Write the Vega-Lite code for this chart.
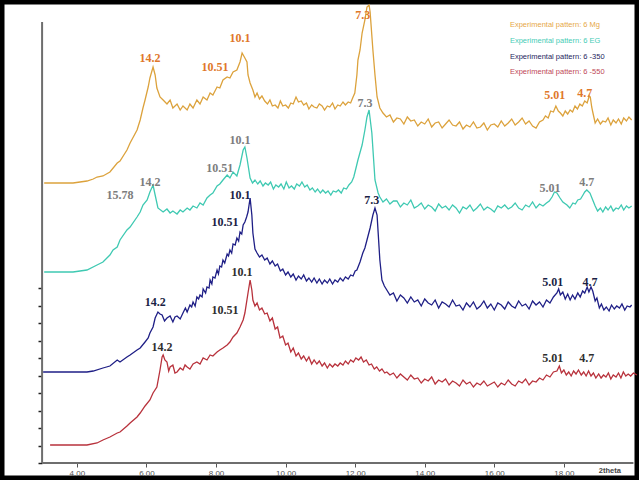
{
  "$schema": "https://vega.github.io/schema/vega-lite/v6.json",
  "width": 639,
  "height": 480,
  "autosize": {"type": "none"},
  "padding": 0,
  "background": "white",
  "config": {"view": {"stroke": "#000", "strokeWidth": 9}},
  "datasets": {
    "curves": [
      {"s":"Mg","t":3.06,"i":280},{"s":"Mg","t":3.52,"i":280},{"s":"Mg","t":3.89,"i":280},{"s":"Mg","t":4.09,"i":281},{"s":"Mg","t":4.29,"i":282},{"s":"Mg","t":4.47,"i":284},{"s":"Mg","t":4.58,"i":286},{"s":"Mg","t":4.75,"i":287},{"s":"Mg","t":4.95,"i":291},{"s":"Mg","t":5.16,"i":300},{"s":"Mg","t":5.24,"i":302},{"s":"Mg","t":5.44,"i":313},{"s":"Mg","t":5.53,"i":320},{"s":"Mg","t":5.73,"i":333},{"s":"Mg","t":5.82,"i":343},{"s":"Mg","t":5.90,"i":355},{"s":"Mg","t":5.96,"i":363},{"s":"Mg","t":6.05,"i":376},{"s":"Mg","t":6.10,"i":385},{"s":"Mg","t":6.19,"i":396},{"s":"Mg","t":6.25,"i":388},{"s":"Mg","t":6.30,"i":375},{"s":"Mg","t":6.39,"i":366},{"s":"Mg","t":6.48,"i":363},{"s":"Mg","t":6.59,"i":359},{"s":"Mg","t":6.68,"i":363},{"s":"Mg","t":6.76,"i":355},{"s":"Mg","t":6.88,"i":359},{"s":"Mg","t":6.97,"i":353},{"s":"Mg","t":7.05,"i":357},{"s":"Mg","t":7.17,"i":353},{"s":"Mg","t":7.25,"i":359},{"s":"Mg","t":7.34,"i":355},{"s":"Mg","t":7.45,"i":363},{"s":"Mg","t":7.54,"i":359},{"s":"Mg","t":7.63,"i":366},{"s":"Mg","t":7.74,"i":363},{"s":"Mg","t":7.83,"i":370},{"s":"Mg","t":7.91,"i":368},{"s":"Mg","t":8.03,"i":376},{"s":"Mg","t":8.11,"i":375},{"s":"Mg","t":8.20,"i":383},{"s":"Mg","t":8.32,"i":386},{"s":"Mg","t":8.40,"i":385},{"s":"Mg","t":8.49,"i":391},{"s":"Mg","t":8.60,"i":393},{"s":"Mg","t":8.69,"i":401},{"s":"Mg","t":8.75,"i":410},{"s":"Mg","t":8.83,"i":405},{"s":"Mg","t":8.89,"i":401},{"s":"Mg","t":8.92,"i":388},{"s":"Mg","t":8.98,"i":380},{"s":"Mg","t":9.06,"i":373},{"s":"Mg","t":9.12,"i":366},{"s":"Mg","t":9.18,"i":370},{"s":"Mg","t":9.25,"i":364},{"s":"Mg","t":9.32,"i":367},{"s":"Mg","t":9.40,"i":362},{"s":"Mg","t":9.48,"i":359},{"s":"Mg","t":9.55,"i":363},{"s":"Mg","t":9.62,"i":357},{"s":"Mg","t":9.70,"i":358},{"s":"Mg","t":9.78,"i":355},{"s":"Mg","t":9.85,"i":362},{"s":"Mg","t":9.92,"i":357},{"s":"Mg","t":10.00,"i":358},{"s":"Mg","t":10.08,"i":355},{"s":"Mg","t":10.15,"i":360},{"s":"Mg","t":10.22,"i":359},{"s":"Mg","t":10.30,"i":366},{"s":"Mg","t":10.37,"i":361},{"s":"Mg","t":10.45,"i":362},{"s":"Mg","t":10.52,"i":358},{"s":"Mg","t":10.60,"i":360},{"s":"Mg","t":10.67,"i":354},{"s":"Mg","t":10.75,"i":358},{"s":"Mg","t":10.82,"i":356},{"s":"Mg","t":10.90,"i":355},{"s":"Mg","t":10.97,"i":359},{"s":"Mg","t":11.05,"i":357},{"s":"Mg","t":11.12,"i":353},{"s":"Mg","t":11.20,"i":357},{"s":"Mg","t":11.27,"i":356},{"s":"Mg","t":11.35,"i":360},{"s":"Mg","t":11.42,"i":354},{"s":"Mg","t":11.50,"i":358},{"s":"Mg","t":11.57,"i":357},{"s":"Mg","t":11.65,"i":361},{"s":"Mg","t":11.72,"i":358},{"s":"Mg","t":11.80,"i":361},{"s":"Mg","t":11.87,"i":360},{"s":"Mg","t":11.94,"i":366},{"s":"Mg","t":11.99,"i":370},{"s":"Mg","t":12.05,"i":388},{"s":"Mg","t":12.08,"i":403},{"s":"Mg","t":12.14,"i":413},{"s":"Mg","t":12.20,"i":430},{"s":"Mg","t":12.28,"i":443},{"s":"Mg","t":12.34,"i":456},{"s":"Mg","t":12.40,"i":458},{"s":"Mg","t":12.43,"i":451},{"s":"Mg","t":12.51,"i":413},{"s":"Mg","t":12.57,"i":388},{"s":"Mg","t":12.63,"i":366},{"s":"Mg","t":12.71,"i":355},{"s":"Mg","t":12.80,"i":350},{"s":"Mg","t":12.90,"i":346},{"s":"Mg","t":13.00,"i":348},{"s":"Mg","t":13.10,"i":341},{"s":"Mg","t":13.20,"i":345},{"s":"Mg","t":13.30,"i":344},{"s":"Mg","t":13.40,"i":339},{"s":"Mg","t":13.50,"i":346},{"s":"Mg","t":13.60,"i":342},{"s":"Mg","t":13.70,"i":343},{"s":"Mg","t":13.80,"i":337},{"s":"Mg","t":13.90,"i":341},{"s":"Mg","t":14.00,"i":339},{"s":"Mg","t":14.10,"i":344},{"s":"Mg","t":14.20,"i":336},{"s":"Mg","t":14.30,"i":340},{"s":"Mg","t":14.40,"i":341},{"s":"Mg","t":14.50,"i":335},{"s":"Mg","t":14.60,"i":339},{"s":"Mg","t":14.70,"i":343},{"s":"Mg","t":14.80,"i":338},{"s":"Mg","t":14.90,"i":337},{"s":"Mg","t":15.00,"i":341},{"s":"Mg","t":15.10,"i":334},{"s":"Mg","t":15.20,"i":338},{"s":"Mg","t":15.30,"i":336},{"s":"Mg","t":15.40,"i":341},{"s":"Mg","t":15.50,"i":335},{"s":"Mg","t":15.60,"i":336},{"s":"Mg","t":15.70,"i":340},{"s":"Mg","t":15.80,"i":333},{"s":"Mg","t":15.90,"i":338},{"s":"Mg","t":16.00,"i":339},{"s":"Mg","t":16.10,"i":336},{"s":"Mg","t":16.20,"i":342},{"s":"Mg","t":16.30,"i":337},{"s":"Mg","t":16.40,"i":340},{"s":"Mg","t":16.50,"i":344},{"s":"Mg","t":16.60,"i":338},{"s":"Mg","t":16.70,"i":341},{"s":"Mg","t":16.80,"i":345},{"s":"Mg","t":16.90,"i":339},{"s":"Mg","t":17.00,"i":342},{"s":"Mg","t":17.10,"i":337},{"s":"Mg","t":17.20,"i":335},{"s":"Mg","t":17.30,"i":341},{"s":"Mg","t":17.40,"i":343},{"s":"Mg","t":17.47,"i":347},{"s":"Mg","t":17.55,"i":345},{"s":"Mg","t":17.62,"i":352},{"s":"Mg","t":17.70,"i":351},{"s":"Mg","t":17.77,"i":357},{"s":"Mg","t":17.84,"i":352},{"s":"Mg","t":17.90,"i":350},{"s":"Mg","t":17.97,"i":347},{"s":"Mg","t":18.04,"i":352},{"s":"Mg","t":18.11,"i":349},{"s":"Mg","t":18.18,"i":353},{"s":"Mg","t":18.25,"i":351},{"s":"Mg","t":18.32,"i":357},{"s":"Mg","t":18.39,"i":354},{"s":"Mg","t":18.46,"i":359},{"s":"Mg","t":18.53,"i":357},{"s":"Mg","t":18.60,"i":362},{"s":"Mg","t":18.67,"i":360},{"s":"Mg","t":18.73,"i":367},{"s":"Mg","t":18.76,"i":366},{"s":"Mg","t":18.80,"i":356},{"s":"Mg","t":18.83,"i":351},{"s":"Mg","t":18.90,"i":340},{"s":"Mg","t":18.97,"i":344},{"s":"Mg","t":19.05,"i":339},{"s":"Mg","t":19.12,"i":342},{"s":"Mg","t":19.20,"i":341},{"s":"Mg","t":19.27,"i":345},{"s":"Mg","t":19.35,"i":338},{"s":"Mg","t":19.42,"i":343},{"s":"Mg","t":19.50,"i":340},{"s":"Mg","t":19.57,"i":344},{"s":"Mg","t":19.65,"i":339},{"s":"Mg","t":19.72,"i":345},{"s":"Mg","t":19.80,"i":342},{"s":"Mg","t":19.87,"i":346},{"s":"Mg","t":19.95,"i":343},

      {"s":"EG","t":3.06,"i":191},{"s":"EG","t":3.52,"i":191},{"s":"EG","t":3.89,"i":191},{"s":"EG","t":4.09,"i":192},{"s":"EG","t":4.29,"i":193},{"s":"EG","t":4.58,"i":198},{"s":"EG","t":4.75,"i":201},{"s":"EG","t":4.95,"i":208},{"s":"EG","t":5.04,"i":213},{"s":"EG","t":5.16,"i":216},{"s":"EG","t":5.24,"i":223},{"s":"EG","t":5.44,"i":233},{"s":"EG","t":5.53,"i":236},{"s":"EG","t":5.73,"i":246},{"s":"EG","t":5.82,"i":251},{"s":"EG","t":5.90,"i":258},{"s":"EG","t":6.02,"i":263},{"s":"EG","t":6.10,"i":271},{"s":"EG","t":6.19,"i":278},{"s":"EG","t":6.25,"i":268},{"s":"EG","t":6.33,"i":255},{"s":"EG","t":6.48,"i":251},{"s":"EG","t":6.59,"i":254},{"s":"EG","t":6.68,"i":250},{"s":"EG","t":6.76,"i":252},{"s":"EG","t":6.88,"i":249},{"s":"EG","t":6.97,"i":253},{"s":"EG","t":7.05,"i":251},{"s":"EG","t":7.17,"i":255},{"s":"EG","t":7.25,"i":253},{"s":"EG","t":7.34,"i":257},{"s":"EG","t":7.45,"i":255},{"s":"EG","t":7.54,"i":260},{"s":"EG","t":7.63,"i":258},{"s":"EG","t":7.74,"i":265},{"s":"EG","t":7.83,"i":268},{"s":"EG","t":7.91,"i":270},{"s":"EG","t":8.03,"i":277},{"s":"EG","t":8.11,"i":279},{"s":"EG","t":8.20,"i":283},{"s":"EG","t":8.32,"i":288},{"s":"EG","t":8.40,"i":285},{"s":"EG","t":8.49,"i":291},{"s":"EG","t":8.60,"i":287},{"s":"EG","t":8.69,"i":298},{"s":"EG","t":8.78,"i":313},{"s":"EG","t":8.83,"i":316},{"s":"EG","t":8.89,"i":305},{"s":"EG","t":8.98,"i":285},{"s":"EG","t":9.05,"i":280},{"s":"EG","t":9.12,"i":283},{"s":"EG","t":9.20,"i":279},{"s":"EG","t":9.27,"i":282},{"s":"EG","t":9.35,"i":277},{"s":"EG","t":9.42,"i":280},{"s":"EG","t":9.50,"i":278},{"s":"EG","t":9.57,"i":281},{"s":"EG","t":9.65,"i":274},{"s":"EG","t":9.72,"i":278},{"s":"EG","t":9.80,"i":276},{"s":"EG","t":9.87,"i":279},{"s":"EG","t":9.95,"i":274},{"s":"EG","t":10.02,"i":281},{"s":"EG","t":10.10,"i":275},{"s":"EG","t":10.17,"i":277},{"s":"EG","t":10.25,"i":274},{"s":"EG","t":10.32,"i":279},{"s":"EG","t":10.40,"i":277},{"s":"EG","t":10.47,"i":281},{"s":"EG","t":10.55,"i":276},{"s":"EG","t":10.62,"i":278},{"s":"EG","t":10.70,"i":273},{"s":"EG","t":10.77,"i":275},{"s":"EG","t":10.85,"i":271},{"s":"EG","t":10.92,"i":274},{"s":"EG","t":11.00,"i":270},{"s":"EG","t":11.07,"i":273},{"s":"EG","t":11.15,"i":270},{"s":"EG","t":11.22,"i":272},{"s":"EG","t":11.30,"i":268},{"s":"EG","t":11.37,"i":272},{"s":"EG","t":11.45,"i":271},{"s":"EG","t":11.52,"i":273},{"s":"EG","t":11.60,"i":270},{"s":"EG","t":11.67,"i":275},{"s":"EG","t":11.75,"i":274},{"s":"EG","t":11.82,"i":278},{"s":"EG","t":11.90,"i":281},{"s":"EG","t":11.96,"i":286},{"s":"EG","t":12.01,"i":293},{"s":"EG","t":12.08,"i":303},{"s":"EG","t":12.20,"i":318},{"s":"EG","t":12.28,"i":333},{"s":"EG","t":12.34,"i":346},{"s":"EG","t":12.40,"i":353},{"s":"EG","t":12.48,"i":330},{"s":"EG","t":12.57,"i":283},{"s":"EG","t":12.66,"i":270},{"s":"EG","t":12.71,"i":266},{"s":"EG","t":12.80,"i":261},{"s":"EG","t":12.90,"i":264},{"s":"EG","t":13.00,"i":259},{"s":"EG","t":13.10,"i":262},{"s":"EG","t":13.20,"i":262},{"s":"EG","t":13.30,"i":256},{"s":"EG","t":13.40,"i":260},{"s":"EG","t":13.50,"i":258},{"s":"EG","t":13.60,"i":263},{"s":"EG","t":13.70,"i":255},{"s":"EG","t":13.80,"i":257},{"s":"EG","t":13.90,"i":260},{"s":"EG","t":14.00,"i":254},{"s":"EG","t":14.10,"i":258},{"s":"EG","t":14.20,"i":256},{"s":"EG","t":14.30,"i":252},{"s":"EG","t":14.40,"i":259},{"s":"EG","t":14.50,"i":255},{"s":"EG","t":14.60,"i":257},{"s":"EG","t":14.70,"i":253},{"s":"EG","t":14.80,"i":258},{"s":"EG","t":14.90,"i":255},{"s":"EG","t":15.00,"i":250},{"s":"EG","t":15.10,"i":256},{"s":"EG","t":15.20,"i":254},{"s":"EG","t":15.30,"i":258},{"s":"EG","t":15.40,"i":252},{"s":"EG","t":15.50,"i":255},{"s":"EG","t":15.60,"i":259},{"s":"EG","t":15.70,"i":253},{"s":"EG","t":15.80,"i":256},{"s":"EG","t":15.90,"i":254},{"s":"EG","t":16.00,"i":251},{"s":"EG","t":16.10,"i":257},{"s":"EG","t":16.20,"i":255},{"s":"EG","t":16.30,"i":258},{"s":"EG","t":16.40,"i":254},{"s":"EG","t":16.50,"i":256},{"s":"EG","t":16.60,"i":260},{"s":"EG","t":16.70,"i":255},{"s":"EG","t":16.80,"i":253},{"s":"EG","t":16.90,"i":258},{"s":"EG","t":17.00,"i":256},{"s":"EG","t":17.10,"i":261},{"s":"EG","t":17.20,"i":255},{"s":"EG","t":17.30,"i":259},{"s":"EG","t":17.40,"i":257},{"s":"EG","t":17.50,"i":260},{"s":"EG","t":17.58,"i":262},{"s":"EG","t":17.66,"i":266},{"s":"EG","t":17.73,"i":271},{"s":"EG","t":17.80,"i":270},{"s":"EG","t":17.89,"i":265},{"s":"EG","t":17.97,"i":261},{"s":"EG","t":18.09,"i":258},{"s":"EG","t":18.17,"i":255},{"s":"EG","t":18.26,"i":260},{"s":"EG","t":18.33,"i":259},{"s":"EG","t":18.40,"i":263},{"s":"EG","t":18.48,"i":264},{"s":"EG","t":18.55,"i":268},{"s":"EG","t":18.60,"i":271},{"s":"EG","t":18.66,"i":273},{"s":"EG","t":18.75,"i":270},{"s":"EG","t":18.83,"i":263},{"s":"EG","t":18.90,"i":257},{"s":"EG","t":18.97,"i":252},{"s":"EG","t":19.05,"i":255},{"s":"EG","t":19.12,"i":251},{"s":"EG","t":19.20,"i":256},{"s":"EG","t":19.27,"i":253},{"s":"EG","t":19.35,"i":257},{"s":"EG","t":19.42,"i":252},{"s":"EG","t":19.50,"i":255},{"s":"EG","t":19.57,"i":254},{"s":"EG","t":19.65,"i":258},{"s":"EG","t":19.72,"i":253},{"s":"EG","t":19.80,"i":257},{"s":"EG","t":19.87,"i":255},{"s":"EG","t":19.95,"i":257},

      {"s":"350","t":3.03,"i":91},{"s":"350","t":3.52,"i":91},{"s":"350","t":3.89,"i":91},{"s":"350","t":4.29,"i":91},{"s":"350","t":4.47,"i":92},{"s":"350","t":4.75,"i":95},{"s":"350","t":4.95,"i":97},{"s":"350","t":5.16,"i":103},{"s":"350","t":5.24,"i":101},{"s":"350","t":5.44,"i":106},{"s":"350","t":5.53,"i":108},{"s":"350","t":5.73,"i":113},{"s":"350","t":5.82,"i":115},{"s":"350","t":5.96,"i":121},{"s":"350","t":6.05,"i":125},{"s":"350","t":6.10,"i":130},{"s":"350","t":6.19,"i":136},{"s":"350","t":6.25,"i":145},{"s":"350","t":6.33,"i":151},{"s":"350","t":6.39,"i":149},{"s":"350","t":6.45,"i":148},{"s":"350","t":6.52,"i":142},{"s":"350","t":6.59,"i":145},{"s":"350","t":6.68,"i":147},{"s":"350","t":6.76,"i":141},{"s":"350","t":6.82,"i":146},{"s":"350","t":6.88,"i":147},{"s":"350","t":6.97,"i":144},{"s":"350","t":7.05,"i":150},{"s":"350","t":7.12,"i":155},{"s":"350","t":7.17,"i":151},{"s":"350","t":7.25,"i":158},{"s":"350","t":7.30,"i":156},{"s":"350","t":7.34,"i":161},{"s":"350","t":7.40,"i":157},{"s":"350","t":7.45,"i":166},{"s":"350","t":7.50,"i":164},{"s":"350","t":7.54,"i":168},{"s":"350","t":7.60,"i":166},{"s":"350","t":7.63,"i":174},{"s":"350","t":7.70,"i":170},{"s":"350","t":7.74,"i":176},{"s":"350","t":7.80,"i":175},{"s":"350","t":7.83,"i":183},{"s":"350","t":7.88,"i":179},{"s":"350","t":7.91,"i":186},{"s":"350","t":7.97,"i":185},{"s":"350","t":8.03,"i":193},{"s":"350","t":8.07,"i":189},{"s":"350","t":8.11,"i":197},{"s":"350","t":8.16,"i":196},{"s":"350","t":8.20,"i":203},{"s":"350","t":8.25,"i":200},{"s":"350","t":8.32,"i":209},{"s":"350","t":8.36,"i":207},{"s":"350","t":8.40,"i":213},{"s":"350","t":8.45,"i":210},{"s":"350","t":8.49,"i":219},{"s":"350","t":8.55,"i":218},{"s":"350","t":8.60,"i":225},{"s":"350","t":8.65,"i":222},{"s":"350","t":8.69,"i":231},{"s":"350","t":8.74,"i":229},{"s":"350","t":8.78,"i":238},{"s":"350","t":8.83,"i":241},{"s":"350","t":8.88,"i":246},{"s":"350","t":8.92,"i":251},{"s":"350","t":8.95,"i":258},{"s":"350","t":8.98,"i":265},{"s":"350","t":9.03,"i":248},{"s":"350","t":9.06,"i":230},{"s":"350","t":9.12,"i":214},{"s":"350","t":9.18,"i":210},{"s":"350","t":9.25,"i":206},{"s":"350","t":9.32,"i":208},{"s":"350","t":9.40,"i":203},{"s":"350","t":9.47,"i":205},{"s":"350","t":9.55,"i":199},{"s":"350","t":9.62,"i":202},{"s":"350","t":9.70,"i":197},{"s":"350","t":9.77,"i":199},{"s":"350","t":9.85,"i":192},{"s":"350","t":9.92,"i":194},{"s":"350","t":10.00,"i":188},{"s":"350","t":10.07,"i":191},{"s":"350","t":10.15,"i":186},{"s":"350","t":10.22,"i":189},{"s":"350","t":10.30,"i":183},{"s":"350","t":10.37,"i":187},{"s":"350","t":10.45,"i":184},{"s":"350","t":10.52,"i":188},{"s":"350","t":10.60,"i":182},{"s":"350","t":10.67,"i":185},{"s":"350","t":10.75,"i":181},{"s":"350","t":10.82,"i":185},{"s":"350","t":10.90,"i":180},{"s":"350","t":10.97,"i":184},{"s":"350","t":11.05,"i":179},{"s":"350","t":11.12,"i":183},{"s":"350","t":11.20,"i":180},{"s":"350","t":11.27,"i":184},{"s":"350","t":11.35,"i":179},{"s":"350","t":11.42,"i":183},{"s":"350","t":11.50,"i":181},{"s":"350","t":11.57,"i":185},{"s":"350","t":11.65,"i":182},{"s":"350","t":11.72,"i":186},{"s":"350","t":11.80,"i":184},{"s":"350","t":11.87,"i":188},{"s":"350","t":11.94,"i":187},{"s":"350","t":12.00,"i":192},{"s":"350","t":12.05,"i":193},{"s":"350","t":12.14,"i":201},{"s":"350","t":12.22,"i":210},{"s":"350","t":12.28,"i":215},{"s":"350","t":12.34,"i":223},{"s":"350","t":12.43,"i":235},{"s":"350","t":12.51,"i":248},{"s":"350","t":12.57,"i":255},{"s":"350","t":12.63,"i":248},{"s":"350","t":12.66,"i":231},{"s":"350","t":12.71,"i":203},{"s":"350","t":12.77,"i":183},{"s":"350","t":12.84,"i":177},{"s":"350","t":12.91,"i":173},{"s":"350","t":13.00,"i":168},{"s":"350","t":13.10,"i":170},{"s":"350","t":13.20,"i":162},{"s":"350","t":13.30,"i":168},{"s":"350","t":13.40,"i":165},{"s":"350","t":13.50,"i":160},{"s":"350","t":13.60,"i":166},{"s":"350","t":13.70,"i":161},{"s":"350","t":13.80,"i":163},{"s":"350","t":13.90,"i":157},{"s":"350","t":14.00,"i":164},{"s":"350","t":14.10,"i":160},{"s":"350","t":14.20,"i":158},{"s":"350","t":14.30,"i":163},{"s":"350","t":14.40,"i":155},{"s":"350","t":14.50,"i":161},{"s":"350","t":14.60,"i":159},{"s":"350","t":14.70,"i":156},{"s":"350","t":14.80,"i":163},{"s":"350","t":14.90,"i":157},{"s":"350","t":15.00,"i":158},{"s":"350","t":15.10,"i":153},{"s":"350","t":15.20,"i":160},{"s":"350","t":15.30,"i":156},{"s":"350","t":15.40,"i":161},{"s":"350","t":15.50,"i":154},{"s":"350","t":15.60,"i":157},{"s":"350","t":15.70,"i":162},{"s":"350","t":15.80,"i":155},{"s":"350","t":15.90,"i":159},{"s":"350","t":16.00,"i":153},{"s":"350","t":16.10,"i":160},{"s":"350","t":16.20,"i":158},{"s":"350","t":16.30,"i":154},{"s":"350","t":16.40,"i":161},{"s":"350","t":16.50,"i":157},{"s":"350","t":16.60,"i":155},{"s":"350","t":16.70,"i":162},{"s":"350","t":16.80,"i":157},{"s":"350","t":16.90,"i":159},{"s":"350","t":17.00,"i":154},{"s":"350","t":17.10,"i":162},{"s":"350","t":17.20,"i":158},{"s":"350","t":17.30,"i":161},{"s":"350","t":17.40,"i":156},{"s":"350","t":17.50,"i":163},{"s":"350","t":17.60,"i":160},{"s":"350","t":17.70,"i":166},{"s":"350","t":17.80,"i":170},{"s":"350","t":17.85,"i":174},{"s":"350","t":17.90,"i":168},{"s":"350","t":17.97,"i":171},{"s":"350","t":18.04,"i":164},{"s":"350","t":18.11,"i":169},{"s":"350","t":18.18,"i":163},{"s":"350","t":18.25,"i":168},{"s":"350","t":18.32,"i":164},{"s":"350","t":18.40,"i":170},{"s":"350","t":18.47,"i":166},{"s":"350","t":18.54,"i":172},{"s":"350","t":18.60,"i":170},{"s":"350","t":18.67,"i":176},{"s":"350","t":18.72,"i":171},{"s":"350","t":18.78,"i":176},{"s":"350","t":18.83,"i":172},{"s":"350","t":18.90,"i":162},{"s":"350","t":18.95,"i":165},{"s":"350","t":19.02,"i":155},{"s":"350","t":19.08,"i":159},{"s":"350","t":19.15,"i":153},{"s":"350","t":19.22,"i":156},{"s":"350","t":19.30,"i":152},{"s":"350","t":19.37,"i":158},{"s":"350","t":19.45,"i":154},{"s":"350","t":19.52,"i":157},{"s":"350","t":19.60,"i":155},{"s":"350","t":19.67,"i":159},{"s":"350","t":19.75,"i":153},{"s":"350","t":19.82,"i":157},{"s":"350","t":19.90,"i":156},{"s":"350","t":19.95,"i":158},

      {"s":"550","t":3.23,"i":18},{"s":"550","t":3.89,"i":18},{"s":"550","t":4.29,"i":18},{"s":"550","t":4.58,"i":20},{"s":"550","t":4.75,"i":23},{"s":"550","t":4.95,"i":26},{"s":"550","t":5.16,"i":30},{"s":"550","t":5.24,"i":31},{"s":"550","t":5.44,"i":37},{"s":"550","t":5.53,"i":40},{"s":"550","t":5.73,"i":46},{"s":"550","t":5.82,"i":50},{"s":"550","t":5.96,"i":57},{"s":"550","t":6.10,"i":63},{"s":"550","t":6.19,"i":70},{"s":"550","t":6.30,"i":76},{"s":"550","t":6.39,"i":93},{"s":"550","t":6.45,"i":106},{"s":"550","t":6.48,"i":108},{"s":"550","t":6.53,"i":103},{"s":"550","t":6.59,"i":101},{"s":"550","t":6.64,"i":92},{"s":"550","t":6.68,"i":96},{"s":"550","t":6.76,"i":98},{"s":"550","t":6.82,"i":90},{"s":"550","t":6.88,"i":91},{"s":"550","t":6.97,"i":95},{"s":"550","t":7.05,"i":93},{"s":"550","t":7.11,"i":98},{"s":"550","t":7.17,"i":96},{"s":"550","t":7.25,"i":94},{"s":"550","t":7.34,"i":99},{"s":"550","t":7.45,"i":101},{"s":"550","t":7.54,"i":99},{"s":"550","t":7.63,"i":105},{"s":"550","t":7.74,"i":103},{"s":"550","t":7.83,"i":108},{"s":"550","t":7.91,"i":107},{"s":"550","t":8.03,"i":111},{"s":"550","t":8.11,"i":113},{"s":"550","t":8.20,"i":115},{"s":"550","t":8.32,"i":118},{"s":"550","t":8.40,"i":121},{"s":"550","t":8.49,"i":126},{"s":"550","t":8.60,"i":130},{"s":"550","t":8.69,"i":136},{"s":"550","t":8.78,"i":143},{"s":"550","t":8.83,"i":150},{"s":"550","t":8.92,"i":170},{"s":"550","t":8.98,"i":183},{"s":"550","t":9.03,"i":173},{"s":"550","t":9.06,"i":163},{"s":"550","t":9.12,"i":157},{"s":"550","t":9.18,"i":160},{"s":"550","t":9.25,"i":153},{"s":"550","t":9.32,"i":155},{"s":"550","t":9.40,"i":149},{"s":"550","t":9.47,"i":150},{"s":"550","t":9.55,"i":142},{"s":"550","t":9.62,"i":145},{"s":"550","t":9.70,"i":134},{"s":"550","t":9.77,"i":136},{"s":"550","t":9.84,"i":125},{"s":"550","t":9.92,"i":127},{"s":"550","t":10.00,"i":118},{"s":"550","t":10.07,"i":120},{"s":"550","t":10.15,"i":111},{"s":"550","t":10.22,"i":115},{"s":"550","t":10.30,"i":107},{"s":"550","t":10.37,"i":110},{"s":"550","t":10.45,"i":104},{"s":"550","t":10.52,"i":107},{"s":"550","t":10.60,"i":102},{"s":"550","t":10.67,"i":106},{"s":"550","t":10.75,"i":99},{"s":"550","t":10.82,"i":103},{"s":"550","t":10.90,"i":99},{"s":"550","t":10.97,"i":102},{"s":"550","t":11.05,"i":97},{"s":"550","t":11.12,"i":100},{"s":"550","t":11.20,"i":95},{"s":"550","t":11.27,"i":99},{"s":"550","t":11.35,"i":96},{"s":"550","t":11.42,"i":99},{"s":"550","t":11.50,"i":97},{"s":"550","t":11.57,"i":100},{"s":"550","t":11.65,"i":98},{"s":"550","t":11.72,"i":102},{"s":"550","t":11.80,"i":99},{"s":"550","t":11.87,"i":103},{"s":"550","t":11.95,"i":101},{"s":"550","t":12.02,"i":105},{"s":"550","t":12.10,"i":103},{"s":"550","t":12.17,"i":106},{"s":"550","t":12.24,"i":101},{"s":"550","t":12.32,"i":103},{"s":"550","t":12.40,"i":98},{"s":"550","t":12.47,"i":99},{"s":"550","t":12.55,"i":94},{"s":"550","t":12.62,"i":96},{"s":"550","t":12.70,"i":92},{"s":"550","t":12.77,"i":94},{"s":"550","t":12.85,"i":90},{"s":"550","t":12.91,"i":91},{"s":"550","t":13.00,"i":88},{"s":"550","t":13.10,"i":90},{"s":"550","t":13.20,"i":85},{"s":"550","t":13.30,"i":89},{"s":"550","t":13.40,"i":86},{"s":"550","t":13.50,"i":83},{"s":"550","t":13.60,"i":88},{"s":"550","t":13.70,"i":84},{"s":"550","t":13.80,"i":85},{"s":"550","t":13.90,"i":80},{"s":"550","t":14.00,"i":84},{"s":"550","t":14.10,"i":82},{"s":"550","t":14.20,"i":86},{"s":"550","t":14.30,"i":79},{"s":"550","t":14.40,"i":83},{"s":"550","t":14.50,"i":81},{"s":"550","t":14.60,"i":84},{"s":"550","t":14.70,"i":78},{"s":"550","t":14.80,"i":82},{"s":"550","t":14.90,"i":80},{"s":"550","t":15.00,"i":77},{"s":"550","t":15.10,"i":83},{"s":"550","t":15.20,"i":79},{"s":"550","t":15.30,"i":81},{"s":"550","t":15.40,"i":76},{"s":"550","t":15.50,"i":80},{"s":"550","t":15.60,"i":78},{"s":"550","t":15.70,"i":82},{"s":"550","t":15.80,"i":77},{"s":"550","t":15.90,"i":79},{"s":"550","t":16.00,"i":81},{"s":"550","t":16.10,"i":76},{"s":"550","t":16.20,"i":80},{"s":"550","t":16.30,"i":78},{"s":"550","t":16.40,"i":83},{"s":"550","t":16.50,"i":79},{"s":"550","t":16.60,"i":77},{"s":"550","t":16.70,"i":82},{"s":"550","t":16.80,"i":80},{"s":"550","t":16.90,"i":84},{"s":"550","t":17.00,"i":78},{"s":"550","t":17.10,"i":82},{"s":"550","t":17.20,"i":81},{"s":"550","t":17.30,"i":85},{"s":"550","t":17.40,"i":83},{"s":"550","t":17.50,"i":88},{"s":"550","t":17.60,"i":86},{"s":"550","t":17.70,"i":91},{"s":"550","t":17.80,"i":92},{"s":"550","t":17.87,"i":97},{"s":"550","t":17.93,"i":90},{"s":"550","t":18.00,"i":93},{"s":"550","t":18.07,"i":88},{"s":"550","t":18.14,"i":91},{"s":"550","t":18.21,"i":87},{"s":"550","t":18.28,"i":92},{"s":"550","t":18.35,"i":89},{"s":"550","t":18.42,"i":93},{"s":"550","t":18.50,"i":88},{"s":"550","t":18.57,"i":91},{"s":"550","t":18.64,"i":87},{"s":"550","t":18.71,"i":92},{"s":"550","t":18.78,"i":87},{"s":"550","t":18.85,"i":90},{"s":"550","t":18.92,"i":85},{"s":"550","t":19.00,"i":89},{"s":"550","t":19.07,"i":85},{"s":"550","t":19.14,"i":88},{"s":"550","t":19.21,"i":86},{"s":"550","t":19.28,"i":90},{"s":"550","t":19.35,"i":84},{"s":"550","t":19.42,"i":88},{"s":"550","t":19.50,"i":86},{"s":"550","t":19.57,"i":90},{"s":"550","t":19.64,"i":85},{"s":"550","t":19.71,"i":91},{"s":"550","t":19.78,"i":87},{"s":"550","t":19.85,"i":89},{"s":"550","t":19.92,"i":87},{"s":"550","t":20.00,"i":90},{"s":"550","t":20.10,"i":88}
    ],
    "peaks": [
      {"g":"Mg","label":"14.2","t":6.10,"i":405},{"g":"Mg","label":"10.51","t":7.97,"i":396},{"g":"Mg","label":"10.1","t":8.69,"i":425},{"g":"Mg","label":"7.3","t":12.22,"i":448},{"g":"Mg","label":"5.01","t":17.74,"i":368},{"g":"Mg","label":"4.7","t":18.60,"i":370},
      {"g":"EG","label":"15.78","t":5.24,"i":268},{"g":"EG","label":"14.2","t":6.10,"i":281},{"g":"EG","label":"10.51","t":8.11,"i":295},{"g":"EG","label":"10.1","t":8.69,"i":323},{"g":"EG","label":"7.3","t":12.28,"i":360},{"g":"EG","label":"5.01","t":17.60,"i":275},{"g":"EG","label":"4.7","t":18.66,"i":281},
      {"g":"350","label":"10.1","t":8.69,"i":268},{"g":"350","label":"10.51","t":8.26,"i":241},{"g":"350","label":"7.3","t":12.48,"i":263},{"g":"350","label":"14.2","t":6.25,"i":161},{"g":"350","label":"5.01","t":17.68,"i":181},{"g":"350","label":"4.7","t":18.75,"i":181},
      {"g":"550","label":"10.1","t":8.75,"i":191},{"g":"550","label":"10.51","t":8.26,"i":153},{"g":"550","label":"14.2","t":6.45,"i":116},{"g":"550","label":"5.01","t":17.68,"i":105},{"g":"550","label":"4.7","t":18.66,"i":105}
    ],
    "legend": [
      {"k":"Mg","text":"Experimental pattern: 6 Mg","t":16.45,"i":438},
      {"k":"EG","text":"Experimental pattern: 6 EG","t":16.45,"i":422},
      {"k":"350","text":"Experimental pattern: 6 -350","t":16.45,"i":406},
      {"k":"550","text":"Experimental pattern: 6 -550","t":16.45,"i":391}
    ],
    "axislines": [
      {"t":3,"t2":20,"i":0,"i2":0},
      {"t":3,"t2":3,"i":0,"i2":441}
    ],
    "xtitle": [{"text":"2theta","t":19.32,"i":-8}]
  },
  "layer": [
    {
      "data": {"name": "axislines"},
      "mark": {"type": "rule", "color": "#6e6e6e", "strokeWidth": 2},
      "encoding": {
        "x": {"field": "t", "type": "quantitative", "scale": {"domain": [1.79, 20.16], "nice": false, "zero": false},
          "axis": {"orient": "bottom", "offset": -17, "domain": false, "grid": false, "values": [4,6,8,10,12,14,16,18], "format": ".2f", "tickSize": 4, "tickColor": "#555", "labelFontSize": 8, "labelColor": "#555", "labelFont": "Liberation Sans", "labelPadding": 2, "title": null}},
        "x2": {"field": "t2"},
        "y": {"field": "i", "type": "quantitative", "scale": {"domain": [-17, 463], "nice": false, "zero": false},
          "axis": {"orient": "left", "offset": -42, "domain": false, "grid": false, "labels": false, "values": [0,17.5,35,52.5,70,87.5,105,122.5,140,157.5,175], "tickSize": 4, "tickColor": "#222", "tickWidth": 1.5, "title": null}},
        "y2": {"field": "i2"}
      }
    },
    {
      "data": {"name": "curves"},
      "mark": {"type": "line", "strokeWidth": 1.3},
      "encoding": {
        "x": {"field": "t", "type": "quantitative"},
        "y": {"field": "i", "type": "quantitative"},
        "color": {"field": "s", "type": "nominal", "scale": {"domain": ["Mg","EG","350","550"], "range": ["#dca23c","#3fc9b2","#1f1f86","#b8323c"]}, "legend": null},
        "order": {"field": "t", "type": "quantitative"}
      }
    },
    {
      "data": {"name": "peaks"},
      "mark": {"type": "text", "font": "Liberation Serif", "fontWeight": "bold", "fontSize": 12, "baseline": "middle", "align": "center"},
      "encoding": {
        "x": {"field": "t", "type": "quantitative"},
        "y": {"field": "i", "type": "quantitative"},
        "text": {"field": "label"},
        "fill": {"field": "g", "type": "nominal", "scale": {"domain": ["Mg","EG","350","550"], "range": ["#e0782a","#7d7d7d","#1b1f45","#2e2e2e"]}, "legend": null}
      }
    },
    {
      "data": {"name": "legend"},
      "mark": {"type": "text", "font": "Liberation Sans", "fontSize": 7.5, "baseline": "middle", "align": "left"},
      "encoding": {
        "x": {"field": "t", "type": "quantitative"},
        "y": {"field": "i", "type": "quantitative"},
        "text": {"field": "text"},
        "color": {"field": "k", "type": "nominal", "scale": {"domain": ["Mg","EG","350","550"], "range": ["#e6a848","#46ccb6","#26265e","#c04858"]}, "legend": null}
      }
    },
    {
      "data": {"name": "xtitle"},
      "mark": {"type": "text", "font": "Liberation Sans", "fontSize": 7.5, "fontWeight": "bold", "baseline": "middle", "align": "center", "color": "#444"},
      "encoding": {
        "x": {"field": "t", "type": "quantitative"},
        "y": {"field": "i", "type": "quantitative"},
        "text": {"field": "text"}
      }
    }
  ],
  "resolve": {"scale": {"color": "independent", "fill": "independent"}}
}
